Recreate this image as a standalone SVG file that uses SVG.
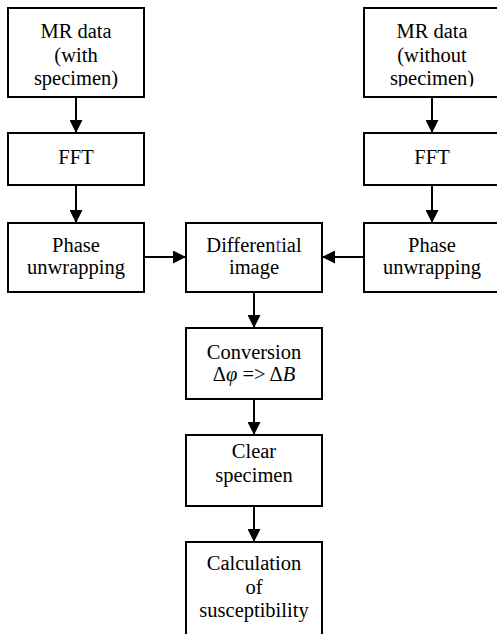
<svg xmlns="http://www.w3.org/2000/svg" width="497" height="634" viewBox="0 0 497 634">
<style>
.box{fill:#fff;stroke:#000;stroke-width:2}
.t{font-family:"Liberation Serif","Times New Roman",serif;font-size:20.5px;fill:#000;text-anchor:middle}
.c{stroke:#000;stroke-width:2;fill:none}
</style>
<defs>
<marker id="ah" markerUnits="userSpaceOnUse" markerWidth="13" markerHeight="13" refX="13" refY="6.5" orient="auto">
<path d="M0,0 L13,6.5 L0,13 Z" fill="#000"/>
</marker>
<clipPath id="clipR"><rect x="360" y="0" width="140" height="86.5"/></clipPath>
</defs>
<rect width="497" height="634" fill="#fff"/>
<g id="connectors">
<line class="c" x1="76" y1="97" x2="76" y2="133" marker-end="url(#ah)"/>
<line class="c" x1="76" y1="185" x2="76" y2="223" marker-end="url(#ah)"/>
<line class="c" x1="432" y1="97" x2="432" y2="133" marker-end="url(#ah)"/>
<line class="c" x1="432" y1="185" x2="432" y2="223" marker-end="url(#ah)"/>
<line class="c" x1="144" y1="257" x2="186" y2="257" marker-end="url(#ah)"/>
<line class="c" x1="364" y1="257" x2="322" y2="257" marker-end="url(#ah)"/>
<line class="c" x1="254" y1="292" x2="254" y2="328" marker-end="url(#ah)"/>
<line class="c" x1="254" y1="399" x2="254" y2="435" marker-end="url(#ah)"/>
<line class="c" x1="254" y1="506" x2="254" y2="542" marker-end="url(#ah)"/>
</g>
<g id="mr-with">
<rect class="box" x="8" y="8" width="136" height="89"/>
<text class="t" x="76" y="38">MR data</text>
<text class="t" x="76" y="61.5">(with</text>
<text class="t" x="76" y="85">specimen)</text>
</g>
<g id="fft-left">
<rect class="box" x="8" y="133" width="136" height="52"/>
<text class="t" x="76" y="163.5">FFT</text>
</g>
<g id="phase-left">
<rect class="box" x="8" y="223" width="136" height="69"/>
<text class="t" x="76" y="252">Phase</text>
<text class="t" x="76" y="274">unwrapping</text>
</g>
<g id="mr-without">
<rect class="box" x="364" y="8" width="136" height="89"/>
<g clip-path="url(#clipR)">
<text class="t" x="432" y="38">MR data</text>
<text class="t" x="432" y="61.5">(without</text>
<text class="t" x="432" y="85">specimen)</text>
</g>
</g>
<g id="fft-right">
<rect class="box" x="364" y="133" width="136" height="52"/>
<text class="t" x="432" y="163.5">FFT</text>
</g>
<g id="phase-right">
<rect class="box" x="364" y="223" width="136" height="69"/>
<text class="t" x="432" y="252">Phase</text>
<text class="t" x="432" y="274">unwrapping</text>
</g>
<g id="differential">
<rect class="box" x="186" y="223" width="136" height="69"/>
<text class="t" x="254" y="252">Differen<tspan fill="#7030a0">t</tspan>ial</text>
<text class="t" x="254" y="273.5">image</text>
</g>
<g id="conversion">
<rect class="box" x="186" y="328" width="136" height="71"/>
<text class="t" x="254" y="358.5">Conversion</text>
<text class="t" x="254" y="381">Δ<tspan font-style="italic">φ</tspan> =&gt; Δ<tspan font-style="italic">B</tspan></text>
</g>
<g id="clear">
<rect class="box" x="186" y="435" width="136" height="71"/>
<text class="t" x="254" y="457.5">Clear</text>
<text class="t" x="254" y="482">specimen</text>
</g>
<g id="calculation">
<rect class="box" x="186" y="542" width="136" height="100"/>
<text class="t" x="254" y="570">Calculation</text>
<text class="t" x="254" y="594">of</text>
<text class="t" x="254" y="617">susceptibility</text>
</g>
</svg>
